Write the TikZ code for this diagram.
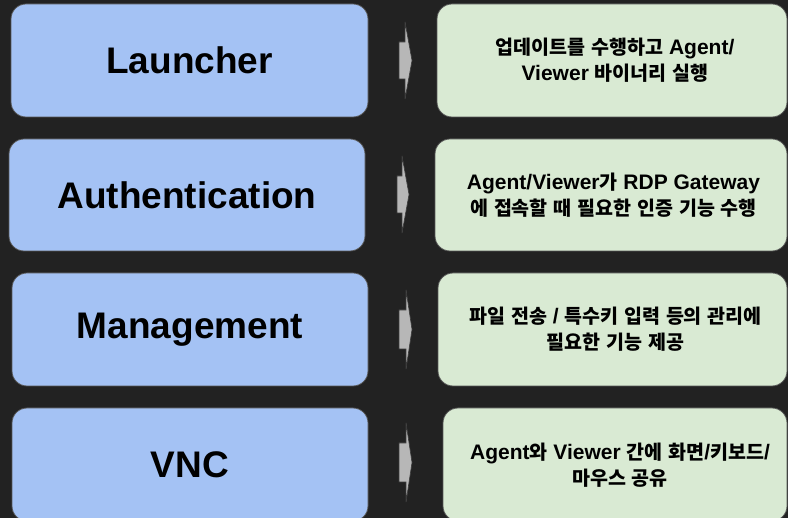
\documentclass[tikz,border=0pt]{standalone}
\usepackage{fontspec}
\setmainfont{Liberation Sans}
\newfontfamily\kr{Noto Sans CJK KR}[Scale=0.93]
\newcommand{\K}[1]{{\kr\bfseries #1}}
\definecolor{bg}{HTML}{222222}
\definecolor{boxblue}{HTML}{A4C2F4}
\definecolor{boxgreen}{HTML}{D9EAD3}
\definecolor{boxline}{HTML}{555555}
\definecolor{arrfill}{HTML}{B7B7B7}
\definecolor{arrline}{HTML}{3C3C3C}
\tikzset{
  bluebox/.style={rectangle, rounded corners=15pt, fill=boxblue, draw=boxline, line width=0.8pt,
    inner sep=0pt, font=\fontsize{37}{44}\selectfont\bfseries, text=black},
  greenbox/.style={rectangle, rounded corners=15pt, fill=boxgreen, draw=boxline, line width=0.8pt,
    inner sep=0pt},
  gtext/.style={align=center, inner sep=0pt, font=\fontsize{21}{26}\selectfont\bfseries, text=black},
  blockarrow/.style={fill=arrfill, draw=arrline, line width=0.6pt, line join=miter}
}
\begin{document}
\begin{tikzpicture}[x=1pt,y=-1pt]
\useasboundingbox (0,0) rectangle (788,518);
\fill[bg] (0,0) rectangle (788,518);

% left boxes
\node[bluebox, minimum width=357pt, minimum height=113pt] (b1) at (189.5,60.5) {Launcher};
\node[bluebox, minimum width=356pt, minimum height=112pt] (b2) at (187,195) {Authentication};
\node[bluebox, minimum width=356pt, minimum height=113pt] (b3) at (190,329.5) {Management};
\node[bluebox, minimum width=356pt, minimum height=113pt] (b4) at (190,464.5) {VNC};

% right boxes
\node[greenbox, minimum width=350pt, minimum height=113pt] (g1) at (612,60.5) {};
\node[greenbox, minimum width=352pt, minimum height=112pt] (g2) at (611,195) {};
\node[greenbox, minimum width=349pt, minimum height=113pt] (g3) at (612.5,329.5) {};
\node[greenbox, minimum width=344pt, minimum height=113pt] (g4) at (615,464.5) {};

\node[gtext] (t1) at ([xshift=3pt]g1.center) {\K{업데이트를} \K{수행하고} Agent/\\Viewer \K{바이너리} \K{실행}};
\node[gtext] (t2) at ([xshift=2.5pt]g2.center) {Agent/Viewer\K{가} RDP Gateway\\\K{에} \K{접속할} \K{때} \K{필요한} \K{인증} \K{기능} \K{수행}};
\node[gtext] (t3) at ([xshift=3pt]g3.center) {\K{파일} \K{전송} / \K{특수키} \K{입력} \K{등의} \K{관리에}\\\K{필요한} \K{기능} \K{제공}};
\node[gtext] (t4) at ([xshift=5pt,yshift=-1pt]g4.center) {Agent\K{와} Viewer \K{간에} \K{화면}/\K{키보드}/\\\K{마우스} \K{공유}};

% block arrows
\draw[blockarrow] (399,42) -- (405,42) -- (405,22) -- (412,60.5) -- (405,99) -- (405,79) -- (399,79) -- cycle;
\draw[blockarrow] (397,176) -- (402,176) -- (402,156) -- (409,194.5) -- (402,233) -- (402,213) -- (397,213) -- cycle;
\draw[blockarrow] (399,310) -- (406,310) -- (406,290) -- (412,329.5) -- (406,369) -- (406,349) -- (399,349) -- cycle;
\draw[blockarrow] (399,443) -- (406,443) -- (406,423) -- (412,462.5) -- (406,502) -- (406,482) -- (399,482) -- cycle;
\end{tikzpicture}
\end{document}
